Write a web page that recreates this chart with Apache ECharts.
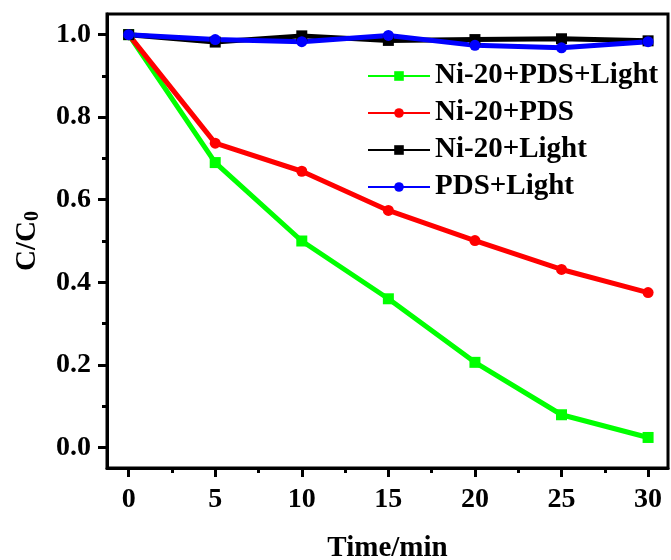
<!DOCTYPE html>
<html>
<head>
<meta charset="utf-8">
<script src="https://cdn.jsdelivr.net/npm/echarts@6/dist/echarts.min.js"></script>
<style>
  html, body { margin: 0; padding: 0; background: #fff; }
  #chart { width: 671px; height: 560px; }
</style>
</head>
<body>
<div id="chart"></div>
<script>
// time points (min)
var times = [0, 5, 10, 15, 20, 25, 30]
// C/C0 values
var niPdsLight = [1.0, 0.69, 0.50, 0.36, 0.206, 0.079, 0.024]
var niPds = [1.0, 0.737, 0.669, 0.574, 0.501, 0.431, 0.375]
var niLight = [1.0, 0.982, 0.997, 0.986, 0.988, 0.99, 0.985]
var pdsLight = [1.0, 0.988, 0.983, 0.998, 0.974, 0.968, 0.983]

var xMajor = [0, 5, 10, 15, 20, 25, 30]
var xMinor = [2.5, 7.5, 12.5, 17.5, 22.5, 27.5]
var yMajor = [0, 0.2, 0.4, 0.6, 0.8, 1.0]
var yMinor = [0.1, 0.3, 0.5, 0.7, 0.9]

var font = 'Liberation Serif'

function pairs(ys) {
  return times.map(function (t, i) { return [t, ys[i]] })
}

function mkSeries(name, data, color, symbol) {
  return {
    name: name,
    type: 'line',
    data: pairs(data),
    symbol: symbol,
    symbolSize: 11,
    lineStyle: { color: color, width: 5 },
    itemStyle: { color: color },
    emphasis: { disabled: true }
  }
}

var axisFont = { fontFamily: font, fontWeight: 'bold', fontSize: 28, color: '#000' }

var chart = echarts.init(document.getElementById('chart'))
chart.setOption({
  animation: false,
  grid: {
    left: 107, right: 3, top: 14, bottom: 92,
    outerBoundsMode: 'none', containLabel: false,
    show: true, borderColor: '#000', borderWidth: 3
  },
  legend: {
    orient: 'vertical',
    left: 362, top: 56,
    itemWidth: 62, itemHeight: 12, itemGap: 7,
    textStyle: { fontFamily: font, fontWeight: 'bold', fontSize: 29, color: '#000', lineHeight: 30 },
    data: ['Ni-20+PDS+Light', 'Ni-20+PDS', 'Ni-20+Light', 'PDS+Light']
  },
  xAxis: [{
    type: 'value', min: -1.25, max: 31.15,
    name: 'Time/min', nameLocation: 'middle', nameGap: 66,
    nameTextStyle: { fontFamily: font, fontWeight: 'bold', fontSize: 29, color: '#000' },
    axisLine: { show: true, onZero: false, lineStyle: { color: '#000', width: 3 } },
    axisTick: { show: true, customValues: xMajor, length: 9, lineStyle: { width: 3, color: '#000' } },
    axisLabel: Object.assign({ customValues: xMajor, margin: 18 }, axisFont),
    splitLine: { show: false }
  }, {
    type: 'value', min: -1.25, max: 31.15, position: 'bottom',
    axisLine: { show: false, onZero: false },
    axisTick: { show: true, customValues: xMinor, length: 5, lineStyle: { width: 3, color: '#000' } },
    axisLabel: { show: false },
    splitLine: { show: false }
  }],
  yAxis: [{
    type: 'value', min: -0.05, max: 1.05,
    name: 'C/C{sub|0}', nameLocation: 'middle', nameGap: 64, nameRotate: 90,
    nameTextStyle: {
      fontFamily: font, fontWeight: 'bold', fontSize: 29, color: '#000',
      rich: { sub: { fontFamily: font, fontWeight: 'bold', fontSize: 20, color: '#000', padding: [10, 0, 0, 0] } }
    },
    axisLine: { show: true, onZero: false, lineStyle: { color: '#000', width: 3 } },
    axisTick: { show: true, customValues: yMajor, length: 9, lineStyle: { width: 3, color: '#000' } },
    axisLabel: Object.assign({
      customValues: yMajor, margin: 16,
      formatter: function (v) { return v.toFixed(1) }
    }, axisFont),
    splitLine: { show: false }
  }, {
    type: 'value', min: -0.05, max: 1.05, position: 'left',
    axisLine: { show: false, onZero: false },
    axisTick: { show: true, customValues: yMinor, length: 5, lineStyle: { width: 3, color: '#000' } },
    axisLabel: { show: false },
    splitLine: { show: false }
  }],
  series: [
    mkSeries('Ni-20+PDS+Light', niPdsLight, '#00ff00', 'rect'),
    mkSeries('Ni-20+PDS', niPds, '#ff0000', 'circle'),
    mkSeries('Ni-20+Light', niLight, '#000000', 'rect'),
    mkSeries('PDS+Light', pdsLight, '#0000ff', 'circle')
  ]
})
</script>
</body>
</html>
